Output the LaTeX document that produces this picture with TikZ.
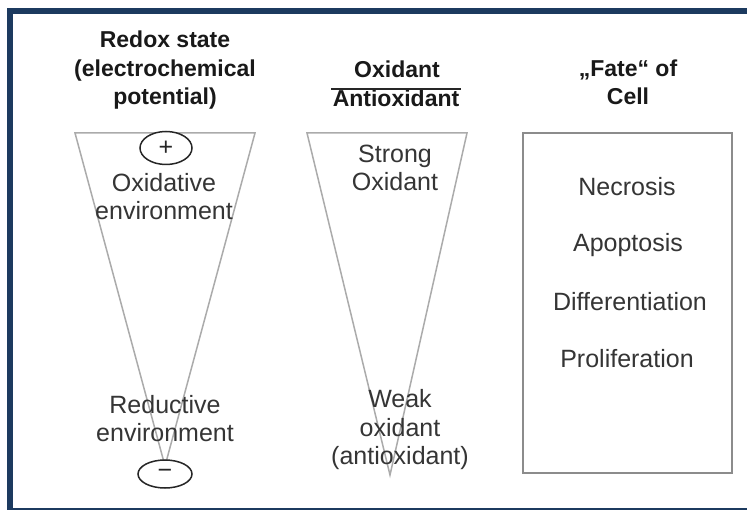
\documentclass[tikz,border=0pt]{standalone}
\usepackage{fontspec}
\setmainfont{Liberation Sans}
\usetikzlibrary{shapes.geometric}
\definecolor{framenavy}{HTML}{1C3A5F}
\definecolor{funnelgray}{HTML}{ABABAB}
\definecolor{boxgray}{HTML}{8C8C8C}
\definecolor{textgray}{HTML}{353535}

\begin{document}
\begin{tikzpicture}[
  x=1pt, y=-1pt,
  head/.style={anchor=base, align=center, inner sep=0pt, text=black!90, font=\fontsize{23}{28.5}\selectfont\bfseries},
  body/.style={anchor=base, align=center, inner sep=0pt, text=textgray, font=\fontsize{25}{28}\selectfont},
  funnel/.style={draw=funnelgray, line width=1.5pt, line join=miter},
  sign/.style={draw=black!85, fill=white, ellipse, line width=1.5pt, inner sep=0pt, text=black!85, font=\fontsize{25}{25}\selectfont},
  fatebox/.style={draw=boxgray, line width=2pt},
  bar/.style={draw=black!85, line width=2pt}
]
\useasboundingbox (0,0) rectangle (747,510);
\fill[white] (0,0) rectangle (747,510);
\draw[framenavy, line width=6pt] (10,11) rectangle (770,511);

% headings (base = last line)
\node[head] (redox) at (165,105) {Redox state\\(electrochemical\\potential)};
\node[head] (oxnum) at (397,78) {Oxidant};
\node[head] (oxden) at (396,107) {Antioxidant};
\coordinate (barL) at (331,89);
\coordinate (barR) at (461,89);
\draw[bar] (barL) -- (barR);
\node[head] (fate) at (628,105) {„Fate“ of\\Cell};

% funnels
\coordinate (redTL) at (75,133);
\coordinate (redTR) at (255,133);
\coordinate (redApex) at (165,466);
\draw[funnel] (redTL) -- (redTR) -- (redApex) -- cycle;
\coordinate (oxTL) at (307,133);
\coordinate (oxTR) at (467,133);
\coordinate (oxApex) at (390,475);
\draw[funnel] (oxTL) -- (oxTR) -- (oxApex) -- cycle;

% redox column
\node[sign, minimum width=52pt, minimum height=33pt] (plus) at (166,148) {+};
\node[body] (oxenv) at (164,220) {Oxidative\\environment};
\node[body] (redenv) at (165,441) {Reductive\\environment};
\node[sign, minimum width=54pt, minimum height=28pt] (minus) at (165,474) {\raisebox{1pt}{−}};

% oxidant column
\node[body] (strong) at (395,191) {Strong\\Oxidant};
\node[body] (weak) at (400,464) {Weak\\oxidant\\(antioxidant)};

% fate column
\draw[fatebox] (523,133) rectangle (732,473);
\node[body] (necrosis) at (627,196) {Necrosis};
\node[body] (apoptosis) at (628,252) {Apoptosis};
\node[body] (differentiation) at (630,311) {Differentiation};
\node[body] (proliferation) at (627,368) {Proliferation};
\end{tikzpicture}
\end{document}
